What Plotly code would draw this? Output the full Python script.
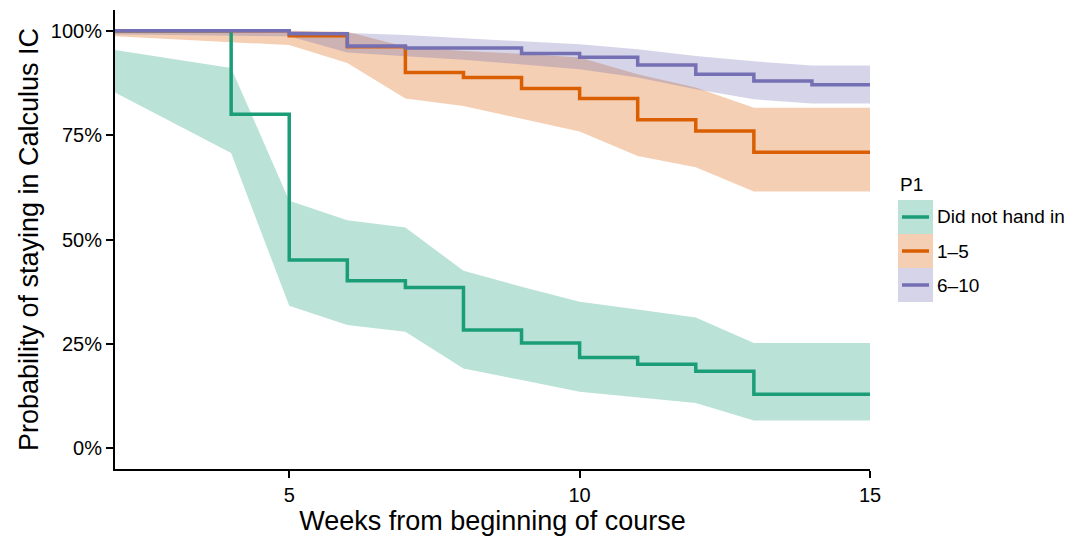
import plotly.graph_objects as go

# Survival estimates per week, with confidence band, for each P1 group
weeks = list(range(2, 16))

groups = ["Did not hand in", "1–5", "6–10"]
line_colors = ["#1B9E77", "#D95F02", "#7570B3"]
band_colors = ["rgba(27,158,119,0.3)", "rgba(217,95,2,0.3)", "rgba(117,112,179,0.3)"]

surv_none = [1.0, 1.0, 0.800, 0.451, 0.401, 0.385, 0.283, 0.252, 0.217, 0.201, 0.184, 0.129, 0.129, 0.129]
upper_none = [0.954, 0.933, 0.911, 0.593, 0.546, 0.529, 0.425, 0.387, 0.351, 0.332, 0.313, 0.252, 0.252, 0.252]
lower_none = [0.852, 0.780, 0.707, 0.341, 0.295, 0.279, 0.191, 0.163, 0.135, 0.122, 0.108, 0.066, 0.066, 0.066]

surv_low = [1.0, 1.0, 1.0, 0.988, 0.962, 0.900, 0.888, 0.862, 0.838, 0.787, 0.760, 0.709, 0.709, 0.709]
upper_low = [1.0, 1.0, 1.0, 1.0, 0.998, 0.962, 0.952, 0.945, 0.936, 0.896, 0.864, 0.816, 0.816, 0.816]
lower_low = [0.987, 0.980, 0.973, 0.966, 0.923, 0.838, 0.820, 0.790, 0.759, 0.700, 0.673, 0.615, 0.615, 0.615]

surv_high = [1.0, 1.0, 1.0, 0.993, 0.964, 0.959, 0.959, 0.946, 0.937, 0.918, 0.896, 0.880, 0.871, 0.871]
upper_high = [1.0, 1.0, 1.0, 1.0, 0.995, 0.990, 0.982, 0.975, 0.968, 0.956, 0.940, 0.927, 0.917, 0.917]
lower_high = [0.991, 0.990, 0.989, 0.987, 0.948, 0.939, 0.931, 0.920, 0.908, 0.888, 0.860, 0.836, 0.826, 0.826]

x_ticks = [5, 10, 15]
y_ticks = [0, 0.25, 0.5, 0.75, 1.0]

surv = [surv_none, surv_low, surv_high]
uppers = [upper_none, upper_low, upper_high]
lowers = [lower_none, lower_low, lower_high]

FONT = "Liberation Sans, Arial, Helvetica, sans-serif"

fig = go.Figure()

# confidence bands first
for up, lo, fc in zip(uppers, lowers, band_colors):
    fig.add_trace(go.Scatter(
        x=weeks + weeks[::-1],
        y=up + lo[::-1],
        fill="toself",
        fillcolor=fc,
        line=dict(width=0),
        mode="lines",
        hoverinfo="skip",
        showlegend=False,
    ))

# step curves on top
for s, lc, name in zip(surv, line_colors, groups):
    fig.add_trace(go.Scatter(
        x=weeks, y=s, mode="lines", name=name,
        line=dict(color=lc, width=3.5, shape="hv"),
        showlegend=False,
    ))

# plot area in pixels
W, H = 1075, 541
L, R, T, B = 115, 205, 10, 72
pw, ph = W - L - R, H - T - B

def px(xp):
    return (xp - L) / pw

def py(yp):
    return (H - B - yp) / ph

# hand-built legend: filled key with a line through it
shapes = []
annotations = [dict(
    x=px(898), y=py(184), xref="paper", yref="paper",
    text="P1", showarrow=False, xanchor="left", yanchor="middle",
    font=dict(family=FONT, size=19, color="#000"),
)]
key_top, key_h = 200, 34
for i, (name, lc, fc) in enumerate(zip(groups, line_colors, band_colors)):
    y0 = key_top + i * key_h
    shapes.append(dict(
        type="rect", xref="paper", yref="paper",
        x0=px(898), x1=px(933), y0=py(y0 + key_h), y1=py(y0),
        fillcolor=fc, line=dict(width=0), layer="above",
    ))
    shapes.append(dict(
        type="line", xref="paper", yref="paper",
        x0=px(902), x1=px(929), y0=py(y0 + key_h / 2), y1=py(y0 + key_h / 2),
        line=dict(color=lc, width=3.5), layer="above",
    ))
    annotations.append(dict(
        x=px(935), y=py(y0 + key_h / 2), xref="paper", yref="paper",
        text=name, showarrow=False, xanchor="left", yanchor="middle",
        font=dict(family=FONT, size=19, color="#000"),
    ))

fig.update_layout(
    width=W, height=H,
    margin=dict(l=L, r=R, t=T, b=B, pad=0),
    plot_bgcolor="white", paper_bgcolor="white",
    font=dict(family=FONT, color="#000"),
    shapes=shapes, annotations=annotations,
    showlegend=False,
)

fig.update_xaxes(
    range=[2, 15], tickvals=x_ticks,
    showline=True, linecolor="#000", linewidth=2,
    ticks="outside", ticklen=7, tickwidth=2, tickcolor="#000",
    showgrid=False, zeroline=False,
    tickfont=dict(family=FONT, size=20, color="#000"),
    title=dict(text="Weeks from beginning of course",
               font=dict(family=FONT, size=27, color="#000"), standoff=0),
)
fig.update_yaxes(
    range=[-0.05, 1.05], tickvals=y_ticks, tickformat=".0%",
    showline=True, linecolor="#000", linewidth=2,
    ticks="outside", ticklen=7, tickwidth=2, tickcolor="#000",
    showgrid=False, zeroline=False,
    tickfont=dict(family=FONT, size=20, color="#000"),
    title=dict(text="Probability of staying in Calculus IC",
               font=dict(family=FONT, size=27, color="#000"), standoff=4),
)

fig.write_html("out.html")
